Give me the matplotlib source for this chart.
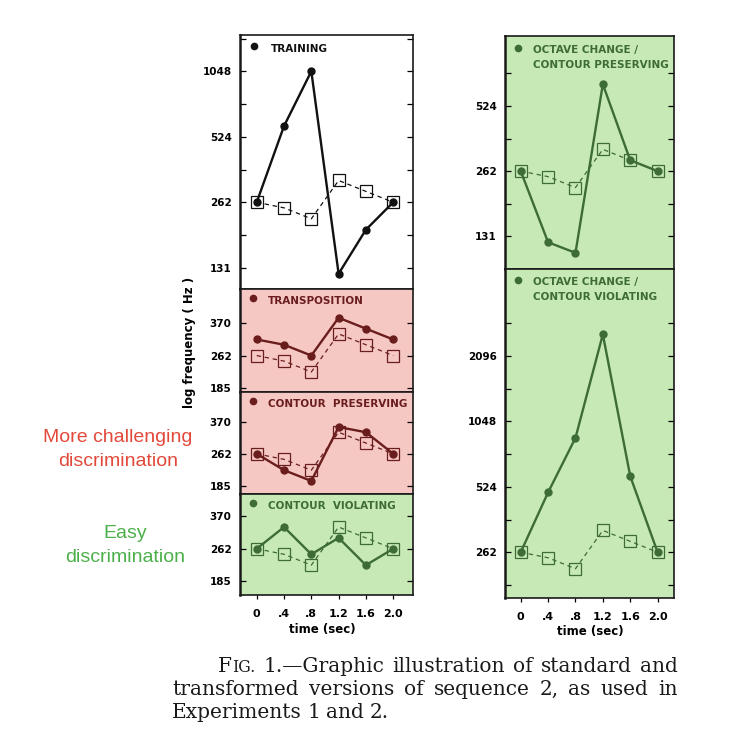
import matplotlib
matplotlib.use("Agg")
import matplotlib.pyplot as plt
from matplotlib.ticker import NullFormatter

W, H = 752, 754
REF = 262

TIMES = [0, 0.4, 0.8, 1.2, 1.6, 2.0]
TIME_LABELS = ["0", ".4", ".8", "1.2", "1.6", "2.0"]

# standard sequence (open squares, dashed) and the comparison tones (dots, solid)
STANDARD = [262, 247, 220, 330, 294, 262]
TRAINING = [262, 587, 1048, 123, 196, 262]
TRANSPOSITION = [311, 294, 262, 392, 349, 311]
CONTOUR_PRESERVING = [262, 220, 196, 349, 330, 262]
CONTOUR_VIOLATING = [262, 330, 247, 294, 220, 262]
OCTAVE_PRESERVING = [262, 123, 110, 659, 294, 262]
OCTAVE_VIOLATING = [262, 494, 880, 2637, 587, 262]

SMALL_TICKS = [185, 262, 370]

BLACK = "#111111"
MAROON = "#6a1d1d"
PINK = "#f6c8c3"
GREEN = "#3d6c36"
GREEN_BG = "#c7e9b5"

NARROW = ["Liberation Sans Narrow", "DejaVu Sans"]

fig = plt.figure(figsize=(W / 100, H / 100), dpi=100)


def panel(rect, xlim, octs, trans, color, bg, titles, dot_off, text_off,
          major, minor=(), show_x=False):
    l, t, r, b = rect
    w, h = r - l, b - t
    ax = fig.add_axes([l / W, 1 - b / H, w / W, h / H])
    ax.set_facecolor(bg)
    ax.set_yscale("log", base=2)
    ax.set_xlim(*xlim)
    ax.set_ylim(REF * 2 ** octs[0], REF * 2 ** octs[1])

    ax.plot(TIMES, STANDARD, color=color, ls=(0, (3.5, 3)), lw=0.9,
            marker="s", ms=8.5, mfc="none", mec=color, mew=0.9, zorder=3)
    ax.plot(TIMES, trans, color=color, ls="-", lw=1.7,
            marker="o", ms=5, mfc=color, mec=color, zorder=4)

    ax.set_yticks(major)
    ax.set_yticklabels([str(v) for v in major], fontfamily=NARROW,
                       fontweight="bold", fontsize=7.5)
    ax.set_yticks(list(minor), minor=True)
    ax.yaxis.set_minor_formatter(NullFormatter())
    ax.tick_params(axis="y", which="both", direction="in", left=True,
                   right=True, length=4, width=0.9, pad=6)

    if show_x:
        ax.set_xticks(TIMES)
        ax.set_xticklabels(TIME_LABELS, fontfamily=NARROW,
                           fontweight="bold", fontsize=8)
        ax.tick_params(axis="x", direction="out", length=3, width=0.9, pad=7)
    else:
        ax.set_xticks([])

    for s in ax.spines.values():
        s.set_color("#1a1a1a")
        s.set_linewidth(1.2)
    ax.spines["left"].set_linewidth(1.8)

    ax.plot([dot_off[0] / w], [1 - dot_off[1] / h], "o", ms=4.5,
            color=color, transform=ax.transAxes, clip_on=False)
    for i, line in enumerate(titles):
        ax.text(text_off[0] / w, 1 - (text_off[1] + 14.5 * i) / h, line,
                transform=ax.transAxes, va="center", ha="left",
                color=color, fontfamily=NARROW, fontweight="bold",
                fontsize=7.5)
    return ax


LEFT_X = (-0.245, 2.29)
RIGHT_X = (-0.23, 2.24)

panel((240, 35, 413, 289), LEFT_X, (-1.324, 2.554), TRAINING, BLACK, "white",
      ["TRAINING"], (14, 11), (31, 14),
      [131, 262, 524, 1048], [185, 370, 741, 1482])
panel((240, 289, 413, 392), LEFT_X, (-0.56, 1.023), TRANSPOSITION, MAROON,
      PINK, ["TRANSPOSITION"], (13, 9), (28, 12), SMALL_TICKS)
panel((240, 392, 413, 494), LEFT_X, (-0.62, 0.954), CONTOUR_PRESERVING,
      MAROON, PINK, ["CONTOUR  PRESERVING"], (13, 9), (28, 12), SMALL_TICKS)
panel((240, 494, 413, 595), LEFT_X, (-0.71, 0.84), CONTOUR_VIOLATING, GREEN,
      GREEN_BG, ["CONTOUR  VIOLATING"], (13, 9), (28, 12), SMALL_TICKS,
      show_x=True)
panel((505, 36, 674, 269), RIGHT_X, (-1.5, 2.07), OCTAVE_PRESERVING, GREEN,
      GREEN_BG, ["OCTAVE CHANGE /", "CONTOUR PRESERVING"], (13, 12), (28, 14),
      [131, 262, 524], [185, 370, 741])
panel((505, 269, 674, 598), RIGHT_X, (-0.70, 4.33), OCTAVE_VIOLATING, GREEN,
      GREEN_BG, ["OCTAVE CHANGE /", "CONTOUR VIOLATING"], (13, 11), (28, 13),
      [262, 524, 1048, 2096], [185, 370, 741, 1482, 2964], show_x=True)

# axis labels
fig.text(190 / W, 1 - 342 / H, "log frequency ( Hz )", rotation=90,
         ha="center", va="center", fontfamily=NARROW, fontweight="bold",
         fontsize=8.5)
fig.text(322 / W, 1 - 629 / H, "time (sec)", ha="center", va="center",
         fontfamily=NARROW, fontweight="bold", fontsize=8.5)
fig.text(590 / W, 1 - 632 / H, "time (sec)", ha="center", va="center",
         fontfamily=NARROW, fontweight="bold", fontsize=8.5)

# side notes
sans = ["Liberation Sans", "DejaVu Sans"]
fig.text(118 / W, 1 - 437 / H, "More challenging", ha="center", va="center",
         color="#e2493a", fontfamily=sans, fontsize=14)
fig.text(118 / W, 1 - 462 / H, "discrimination", ha="center", va="center",
         color="#e2493a", fontfamily=sans, fontsize=14)
fig.text(125 / W, 1 - 533 / H, "Easy", ha="center", va="center",
         color="#4cb04a", fontfamily=sans, fontsize=14)
fig.text(125 / W, 1 - 558 / H, "discrimination", ha="center", va="center",
         color="#4cb04a", fontfamily=sans, fontsize=14)

# caption, justified like the printed page
SERIF = ["DejaVu Serif"]
CAP_SIZE = 14.5
renderer = fig.canvas.get_renderer()


def put_word(x, y, parts):
    width = 0
    for txt, scale in parts:
        t = fig.text((x + width) / W, 1 - y / H, txt, ha="left", va="baseline",
                     fontfamily=SERIF, fontsize=CAP_SIZE * scale, color="#1a1a1a")
        width += t.get_window_extent(renderer=renderer).width
    return width


def caption_line(words, x0, x1, y, justify=True):
    parts = [w if isinstance(w, list) else [(w, 1.0)] for w in words]
    # measure first
    widths = []
    for p in parts:
        tmp = [fig.text(0, 0, txt, fontfamily=SERIF, fontsize=CAP_SIZE * s)
               for txt, s in p]
        widths.append(sum(t.get_window_extent(renderer=renderer).width for t in tmp))
        for t in tmp:
            t.remove()
    if justify and len(parts) > 1:
        gap = (x1 - x0 - sum(widths)) / (len(parts) - 1)
    else:
        gap = CAP_SIZE * 0.4
    x = x0
    for p, wd in zip(parts, widths):
        put_word(x, y, p)
        x += wd + gap


caption_line([[("F", 1.0), ("IG.", 0.78)], "1.—Graphic", "illustration", "of",
              "standard", "and"], 218, 678, 672)
caption_line(["transformed", "versions", "of", "sequence", "2,", "as", "used",
              "in"], 172, 678, 695)
caption_line(["Experiments", "1", "and", "2."], 172, 678, 718, justify=False)

fig.savefig("out.png", dpi=100)
